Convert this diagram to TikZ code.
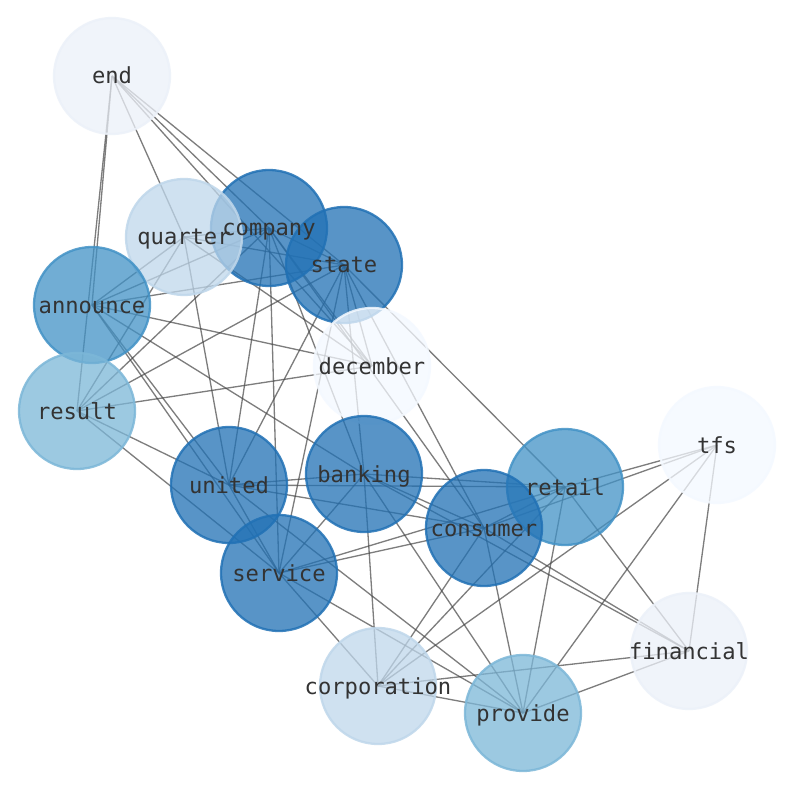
\documentclass[tikz,border=0pt]{standalone}
\usepackage{fontspec}
\setmonofont{DejaVu Sans Mono}
\pgfdeclarelayer{bg}\pgfdeclarelayer{fg}
\pgfsetlayers{bg,main,fg}
\definecolor{lvA}{RGB}{33,113,181}
\definecolor{lvB}{RGB}{66,146,198}
\definecolor{lvC}{RGB}{124,183,216}
\definecolor{lvD}{RGB}{191,215,235}
\definecolor{lvE}{RGB}{236,241,249}
\definecolor{lvF}{RGB}{244,249,255}
\definecolor{txt}{RGB}{51,51,51}
\definecolor{linkc}{RGB}{70,70,70}
\tikzset{
 bub/.style={circle, minimum size=2.32cm, inner sep=0pt, fill opacity=0.75, draw opacity=0.85, line width=1.3pt},
 lab/.style={font=\ttfamily\fontsize{12.6}{14}\selectfont, text=txt, inner sep=0pt, text height=0.74em, text depth=0pt, yshift=-0.03cm},
 lnk/.style={draw=linkc, opacity=0.7, line width=0.75pt}
}
\begin{document}
\begin{tikzpicture}[x=0.02cm,y=-0.02cm]
\useasboundingbox (0,0) rectangle (794,790);
% nodes (circles)
\node[bub, fill=lvE, draw=lvE] (end) at (112,76) {};
\node[bub, fill=lvA, draw=lvA] (company) at (269,228) {};
\node[bub, fill=lvD, draw=lvD] (quarter) at (184,237) {};
\node[bub, fill=lvA, draw=lvA] (state) at (344,265) {};
\node[bub, fill=lvB, draw=lvB] (announce) at (92,305) {};
\node[bub, fill=lvF, draw=lvF] (december) at (372,366) {};
\node[bub, fill=lvC, draw=lvC] (result) at (77,411) {};
\node[bub, fill=lvA, draw=lvA] (united) at (229,485) {};
\node[bub, fill=lvA, draw=lvA] (banking) at (364,474) {};
\node[bub, fill=lvB, draw=lvB] (retail) at (565,487) {};
\node[bub, fill=lvA, draw=lvA] (consumer) at (484,528) {};
\node[bub, fill=lvF, draw=lvF] (tfs) at (717,445) {};
\node[bub, fill=lvA, draw=lvA] (service) at (279,573) {};
\node[bub, fill=lvD, draw=lvD] (corporation) at (378,686) {};
\node[bub, fill=lvC, draw=lvC] (provide) at (523,713) {};
\node[bub, fill=lvE, draw=lvE] (financial) at (689,651) {};
% edges
\begin{pgfonlayer}{bg}
\fill[white] (0,0) rectangle (794,790);
\foreach \a/\b in {end/announce, end/result, end/quarter, end/company, end/state, end/december,
 quarter/announce, quarter/result, quarter/united, quarter/december, quarter/state, quarter/company,
 company/announce, company/result, company/state, company/december, company/united, company/service, company/banking, company/consumer,
 state/announce, state/result, state/december, state/united, state/service, state/banking, state/retail, state/consumer,
 announce/december, announce/united, announce/service, announce/banking,
 result/december, result/united, result/service,
 united/banking, united/retail, united/consumer, united/service, united/provide,
 banking/service, banking/consumer, banking/retail, banking/corporation, banking/provide, banking/financial,
 consumer/service, consumer/retail, consumer/corporation, consumer/provide, consumer/financial,
 retail/service, retail/corporation, retail/provide, retail/financial, retail/tfs,
 tfs/consumer, tfs/corporation, tfs/provide, tfs/financial,
 service/corporation, service/provide,
 corporation/provide, corporation/financial,
 provide/financial}
 \draw[lnk] (\a.center) -- (\b.center);
\end{pgfonlayer}
% labels
\begin{pgfonlayer}{fg}
\foreach \n in {end,company,quarter,state,announce,december,result,united,banking,retail,consumer,tfs,service,corporation,provide,financial}
 \node[lab] (\n-l) at (\n.center) {\n};
\end{pgfonlayer}
\end{tikzpicture}
\end{document}
